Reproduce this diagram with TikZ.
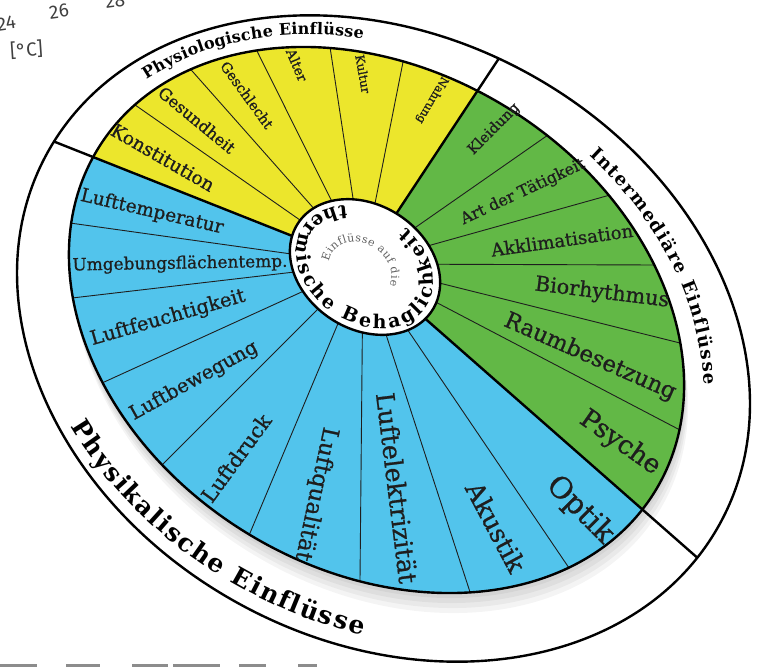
\documentclass[tikz,border=0pt]{standalone}
\usepackage{fontspec}
\usepackage{graphicx}
\setmainfont{DejaVu Serif}
\newfontfamily\labfont[FakeBold=0.8]{DejaVu Serif}
\newfontfamily\sansf{Fira Sans}
\usetikzlibrary{calc,decorations.text}
\definecolor{yel}{HTML}{ECE62C}
\definecolor{grn}{HTML}{62B846}
\definecolor{blu}{HTML}{52C4EC}
\definecolor{ink}{HTML}{1E1E1E}
\newcommand{\lbl}[2]{\resizebox{#1pt}{!}{\labfont #2}}
\begin{document}
\begin{tikzpicture}[x=1pt,y=-1pt,
  bold line/.style={line width=2.4pt, draw=black},
  spoke/.style={line width=0.9pt, draw=ink},
  lab/.style={inner sep=0pt, text=ink},
  stray/.style={inner sep=0pt, text=black!75, font=\sansf\fontsize{19}{19}\selectfont},
]
\useasboundingbox (0,0) rectangle (760,667);
\clip (0,0) rectangle (760,667);

% stray fragments of neighbouring figure
\node[stray, rotate=8, anchor=east] (t24) at (16,22) {24};
\node[stray, rotate=8] (t26) at (59,11.5) {26};
\node[stray, rotate=8] (t28) at (115,1) {28};
\node[stray, rotate=4] (tC) at (26.5,50) {[°C]};
\foreach \a/\b in {0/37,66/100,132/168,173/220,239/266,298/317}
  \fill[black!45] (\a,664) rectangle (\b,667);

% outer disc
\fill[white] (383.5,338.5) circle [x radius=384, y radius=302, rotate=-29];
% shadow
\begin{scope}
  \clip (383.5,338.5) circle [x radius=384, y radius=302, rotate=-29];
  \foreach \d in {5,10,15,20}
    \fill[black, opacity=0.045] ({376.5+\d*0.2},{320+\d}) circle [x radius=327, y radius=249.4, rotate=-31.7];
\end{scope}

% key coordinates
\coordinate (C) at (363,264);
\coordinate (YB) at (93,157);
\coordinate (YG) at (480,87);
\coordinate (GB) at (643,510);

% sectors
\begin{scope}
  \clip (376.5,320) circle [x radius=327, y radius=249.4, rotate=-31.7];
  \fill[yel] (C) -- ($(C)!3!(YB)$) -- (-447,-400) -- (714,-400) -- ($(C)!3!(YG)$) -- cycle;
  \fill[grn] (C) -- ($(C)!3!(YG)$) -- (1400,-400) -- (1400,1100) -- ($(C)!3!(GB)$) -- cycle;
  \fill[blu] (C) -- ($(C)!3!(GB)$) -- (-600,1200) -- (-600,-57) -- ($(C)!3!(YB)$) -- cycle;
  \foreach \px/\py in {138/107,193/72,258/53,330/47,403/62,
                  548/135,610/195,657/265,680/343,680/430,
                  70/223,72/298,102/383,160/467,250/533,360/580,470/592,567/565}
    \draw[spoke] (C) -- ($(C)!2.5!(\px,\py)$);
\end{scope}

% thick sector boundaries (through ring too)
\begin{scope}
  \clip (383.5,338.5) circle [x radius=384, y radius=302, rotate=-29];
  \draw[bold line] (C) -- ($(C)!3!(YB)$);
  \draw[bold line] (C) -- ($(C)!3!(YG)$);
  \draw[bold line] (C) -- ($(C)!3!(GB)$);
\end{scope}

\draw[bold line] (376.5,320) circle [x radius=327, y radius=249.4, rotate=-31.7];
\draw[bold line] (383.5,338.5) circle [x radius=384, y radius=302, rotate=-29];

% hub
\path[fill=white, bold line] (365,267) circle [x radius=80, y radius=62, rotate=-33];

% yellow labels
\node[lab, rotate=-30]   (kon)   at (163,157.5) {\lbl{116}{Konstitution}};
\node[lab, rotate=-39.5] (ges)   at (197,120)   {\lbl{94}{Gesundheit}};
\node[lab, rotate=-54]   (gesch) at (247,95)    {\lbl{79}{Geschlecht}};
\node[lab, rotate=-67]   (alt)   at (297,65)    {\lbl{34}{Alter}};
\node[lab, rotate=-80]   (kul)   at (363,74)    {\lbl{39}{Kultur}};
\node[lab, rotate=-120]  (nah)   at (432,100)   {\lbl{52}{Nahrung}};
% green labels
\node[lab, rotate=45]    (kle)   at (494,129)   {\lbl{66}{Kleidung}};
\node[lab, rotate=25]    (art)   at (523,192)   {\lbl{135}{Art der Tätigkeit}};
\node[lab, rotate=8]     (akk)   at (562,240)   {\lbl{143}{Akklimatisation}};
\node[lab, rotate=-7]    (bio)   at (602,293)   {\lbl{135}{Biorhythmus}};
\node[lab, rotate=-23.6] (rau)   at (590,357)   {\lbl{185}{Raumbesetzung}};
\node[lab, rotate=-35]   (psy)   at (620,443)   {\lbl{92}{Psyche}};
% blue labels
\node[lab, rotate=-13]   (ltemp) at (152,212)   {\lbl{146}{Lufttemperatur}};
\node[lab, rotate=1]     (umg)   at (180,264)   {\lbl{215}{Umgebungsflächentemp.}};
\node[lab, rotate=16]    (lfeu)  at (168,318)   {\lbl{160}{Luftfeuchtigkeit}};
\node[lab, rotate=29]    (lbew)  at (194,381)   {\lbl{143}{Luftbewegung}};
\node[lab, rotate=54]    (ldru)  at (236,458)   {\lbl{103}{Luftdruck}};
\node[lab, rotate=-102]  (lqual) at (316,494)   {\lbl{136}{Luftqualität}};
\node[lab, rotate=-83]   (lelek) at (397,488)   {\lbl{192}{Luftelektrizität}};
\node[lab, rotate=-62]   (akus)  at (496,527)   {\lbl{98}{Akustik}};
\node[lab, rotate=-45]   (opt)   at (580,510)   {\lbl{82}{Optik}};

% ring texts
\begin{scope}[shift={(380,329)}, rotate=-30]
  \path[decorate, decoration={text along path, text align={fit to path},
     text={|\bfseries\fontsize{16}{16}\selectfont|Physiologische Einflüsse}}]
     (-158.7:351 and 273) arc[start angle=-158.7, end angle=-117.1, x radius=351, y radius=273];
  \path[decorate, decoration={text along path, text align={fit to path},
     text={|\bfseries\fontsize{18}{18}\selectfont|Intermediäre Einflüsse}}]
     (-73.9:341 and 265) arc[start angle=-73.9, end angle=-25.3, x radius=341, y radius=265];
  \path[decorate, decoration={text along path, text align={fit to path},
     text={|\bfseries\fontsize{25}{25}\selectfont|Physikalische Einflüsse}}]
     (125.5:378 and 294) arc[start angle=125.5, end angle=68.6, x radius=378, y radius=294];
\end{scope}

% hub texts
\begin{scope}[shift={(365,267)}, rotate=-33]
  \path[decorate, decoration={text along path, text align={fit to path},
     text={|\bfseries\fontsize{19}{19}\selectfont|thermische Behaglichkeit}}]
     (-132:73 and 56) arc[start angle=-132, end angle=-440, x radius=73, y radius=56];
\end{scope}
\begin{scope}[shift={(360,271)}, rotate=-33]
  \path[decorate, decoration={text along path, text align={fit to path}, text color=black!62,
     text={|\fontsize{11}{11}\selectfont|Einflüsse auf die}}]
     (-200:33 and 27) arc[start angle=-200, end angle=-8, x radius=33, y radius=27];
\end{scope}
\end{tikzpicture}
\end{document}
